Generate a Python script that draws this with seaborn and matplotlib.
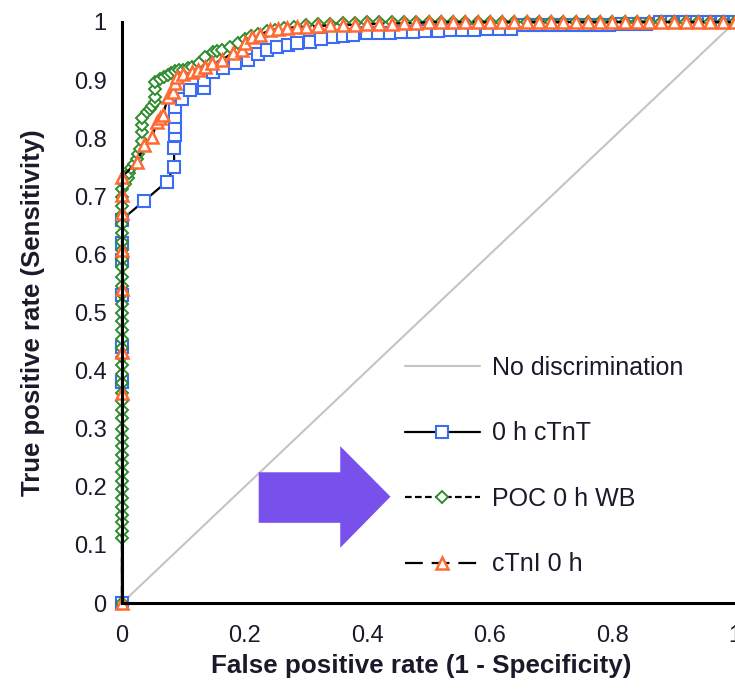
import matplotlib
matplotlib.use("Agg")
import matplotlib.pyplot as plt
import seaborn as sns
from matplotlib.patches import Polygon

# ---- data ----
diag_x = [0, 1]
diag_y = [0, 1]

ctnt_fpr = [0, 0, 0, 0, 0, 0, 0, 0.036, 0.073, 0.085, 0.085, 0.086, 0.086, 0.086, 0.086,
            0.098, 0.111, 0.134, 0.134, 0.148, 0.165, 0.184, 0.206, 0.222, 0.236, 0.253,
            0.27, 0.285, 0.307, 0.325, 0.344, 0.36, 0.377, 0.4, 0.418, 0.437, 0.455, 0.475,
            0.495, 0.515, 0.535, 0.555, 0.575, 0.595, 0.615, 0.635, 0.655, 0.675, 0.695,
            0.715, 0.735, 0.755, 0.775, 0.795, 0.815, 0.835, 0.855, 0.878, 0.898, 0.918,
            0.938, 0.958, 0.978, 1.0]
ctnt_tpr = [0, 0.38, 0.44, 0.53, 0.59, 0.62, 0.66, 0.692, 0.725, 0.75, 0.783, 0.806, 0.82,
            0.836, 0.853, 0.867, 0.883, 0.886, 0.9, 0.914, 0.921, 0.929, 0.935, 0.945, 0.952,
            0.957, 0.96, 0.964, 0.966, 0.97, 0.974, 0.976, 0.978, 0.981, 0.981, 0.981, 0.983,
            0.983, 0.985, 0.985, 0.986, 0.986, 0.986, 0.988, 0.988, 0.988, 0.995, 0.995,
            0.995, 0.995, 0.995, 0.995, 0.995, 0.995, 0.997, 0.997, 0.997, 1.0, 1.0, 1.0,
            1.0, 1.0, 1.0, 1.0]

poc_fpr = [0, 0, 0, 0, 0, 0, 0, 0, 0, 0, 0, 0, 0, 0, 0, 0, 0, 0, 0, 0, 0,
           0, 0, 0, 0, 0, 0, 0, 0, 0, 0, 0, 0, 0, 0, 0, 0, 0, 0, 0, 0, 0,
           0.005, 0.01, 0.012, 0.015, 0.02, 0.024, 0.026, 0.03, 0.033, 0.033, 0.033, 0.033,
           0.04, 0.045, 0.049, 0.054, 0.054, 0.054, 0.054, 0.062, 0.068, 0.075, 0.08, 0.086,
           0.093, 0.1, 0.107, 0.114, 0.125, 0.135, 0.148, 0.155, 0.163, 0.176, 0.19, 0.2,
           0.21, 0.222, 0.236, 0.25, 0.265, 0.28, 0.3, 0.32, 0.34, 0.36, 0.38, 0.4,
           0.42, 0.44, 0.46, 0.48, 0.5, 0.52, 0.54, 0.56, 0.58, 0.6, 0.62, 0.64, 0.66, 0.68,
           0.7, 0.72, 0.74, 0.76, 0.78, 0.8, 0.82, 0.84, 0.86, 0.88, 0.9, 0.92, 0.94, 0.96,
           0.98, 1.0]
poc_tpr = [0, 0.112, 0.124, 0.139, 0.152, 0.166, 0.181, 0.196, 0.21, 0.226, 0.241, 0.255,
           0.27, 0.284, 0.3, 0.318, 0.333, 0.347, 0.362, 0.378, 0.395, 0.41, 0.424, 0.439,
           0.455, 0.47, 0.486, 0.5, 0.515, 0.531, 0.546, 0.561, 0.578, 0.592, 0.607, 0.622,
           0.637, 0.653, 0.668, 0.684, 0.699, 0.713,
           0.722, 0.732, 0.74, 0.748, 0.756, 0.764, 0.772, 0.782, 0.795, 0.81, 0.822, 0.835,
           0.845, 0.85, 0.855, 0.863, 0.871, 0.885, 0.897, 0.902, 0.905, 0.909, 0.912, 0.915,
           0.917, 0.918, 0.92, 0.923, 0.93, 0.94, 0.948, 0.95, 0.952, 0.957, 0.963, 0.97,
           0.976, 0.98, 0.985, 0.987, 0.99, 0.992, 0.995, 0.996, 0.997, 0.998, 0.998, 1.0,
           1.0, 1.0, 1.0, 1.0, 1.0, 1.0, 1.0, 1.0, 1.0, 1.0, 1.0, 1.0, 1.0, 1.0, 1.0,
           1.0, 1.0, 1.0, 1.0, 1.0, 1.0, 1.0, 1.0, 1.0, 1.0, 1.0, 1.0, 1.0, 1.0, 1.0]

ctni_fpr = [0, 0, 0, 0, 0, 0, 0, 0, 0.024, 0.036, 0.049, 0.057, 0.062, 0.067, 0.075, 0.083,
            0.086, 0.09, 0.1, 0.114, 0.124, 0.135, 0.147, 0.163, 0.181, 0.196, 0.2, 0.212,
            0.225, 0.241, 0.255, 0.269, 0.285, 0.3, 0.32, 0.34, 0.36, 0.38, 0.4, 0.42, 0.44,
            0.46, 0.48, 0.5, 0.52, 0.54, 0.56, 0.58, 0.6, 0.62, 0.64, 0.66, 0.68, 0.7, 0.72,
            0.74, 0.76, 0.78, 0.8, 0.82, 0.84, 0.86, 0.88, 0.9, 0.92, 0.94, 0.96, 0.98, 1.0]
ctni_tpr = [0, 0.361, 0.432, 0.54, 0.608, 0.671, 0.702, 0.733, 0.759, 0.788, 0.802, 0.828,
            0.835, 0.84, 0.871, 0.88, 0.895, 0.905, 0.91, 0.914, 0.917, 0.923, 0.929, 0.935,
            0.947, 0.952, 0.964, 0.974, 0.978, 0.986, 0.988, 0.99, 0.991, 0.992, 0.993, 0.994,
            0.995, 0.995, 0.996, 0.997, 0.997, 0.998, 0.998, 1.0, 1.0, 1.0, 1.0, 1.0, 1.0,
            1.0, 1.0, 1.0, 1.0, 1.0, 1.0, 1.0, 1.0, 1.0, 1.0, 1.0, 1.0, 1.0, 1.0, 1.0, 1.0,
            1.0, 1.0, 1.0, 1.0]

labels = ["No discrimination", "0 h cTnT", "POC 0 h WB", "cTnI 0 h"]
tick_vals = [0, 0.2, 0.4, 0.6, 0.8, 1]
ytick_vals = [0, 0.1, 0.2, 0.3, 0.4, 0.5, 0.6, 0.7, 0.8, 0.9, 1]
tick_text = ["0", "0.2", "0.4", "0.6", "0.8", "1"]
ytick_text = ["0", "0.1", "0.2", "0.3", "0.4", "0.5", "0.6", "0.7", "0.8", "0.9", "1"]

# arrow overlay (axes data coordinates)
arrow_xy = [(0.223, 0.138), (0.356, 0.138), (0.356, 0.095), (0.438, 0.183),
            (0.356, 0.270), (0.356, 0.225), (0.223, 0.225)]

sns.set_theme(style="white")
plt.rcParams["font.family"] = ["Liberation Sans", "DejaVu Sans"]

fig = plt.figure(figsize=(7.35, 6.9), dpi=100)
ax = fig.add_axes([122 / 735, 1 - 603 / 690, 613 / 735, 581 / 690])

sns.lineplot(x=diag_x, y=diag_y, ax=ax, color="#c4c4c4", linewidth=1.5,
             estimator=None, sort=False, legend=False)

common = dict(ax=ax, estimator=None, sort=False, legend=False, color="black",
              linewidth=1.6, markerfacecolor="white", clip_on=False)
sns.lineplot(x=ctnt_fpr, y=ctnt_tpr, marker="s", markersize=8,
             markeredgecolor="#3a6cf4", markeredgewidth=1.5, linestyle="-", **common)
sns.lineplot(x=poc_fpr, y=poc_tpr, marker="D", markersize=6,
             markeredgecolor="#2e8b2e", markeredgewidth=1.4, linestyle=(0, (3, 1.5)), **common)
sns.lineplot(x=ctni_fpr, y=ctni_tpr, marker="^", markersize=9,
             markeredgecolor="#ff6a33", markeredgewidth=1.8, linestyle=(0, (8, 4)), **common)

ax.set_xlim(0, 1)
ax.set_ylim(0, 1)
ax.set_xticks(tick_vals)
ax.set_xticklabels(tick_text)
ax.set_yticks(ytick_vals)
ax.set_yticklabels(ytick_text)
ax.tick_params(axis="both", direction="out", length=7, width=2.2, colors="black",
               labelsize=17, labelcolor="#1a1a2a")
ax.tick_params(axis="x", pad=9)
ax.tick_params(axis="y", pad=4)
sns.despine(ax=ax)
for side in ["left", "bottom"]:
    ax.spines[side].set_linewidth(2.2)
    ax.spines[side].set_color("black")

ax.set_xlabel("False positive rate (1 - Specificity)", fontsize=18.7, fontweight="bold",
              color="#1a1a2a")
ax.xaxis.set_label_coords(0.488, -0.088)
ax.xaxis.label.set_va("top")
ax.set_ylabel("True positive rate (Sensitivity)", fontsize=18.5, fontweight="bold",
              color="#1a1a2a", labelpad=21)

ax.add_patch(Polygon(arrow_xy, closed=True, facecolor="#7850ec", edgecolor="none",
                     zorder=5, clip_on=False))

handles = ax.get_lines()[:4]
ax.legend(handles, labels, loc="center left", frameon=False, fontsize=18,
          bbox_to_anchor=(405 / 735, 1 - 466 / 690), bbox_transform=fig.transFigure,
          borderpad=0, borderaxespad=0, handlelength=3.0, handletextpad=0.48,
          labelspacing=1.66, numpoints=1, labelcolor="#1a1a2a")

fig.savefig("out.png", dpi=100)
